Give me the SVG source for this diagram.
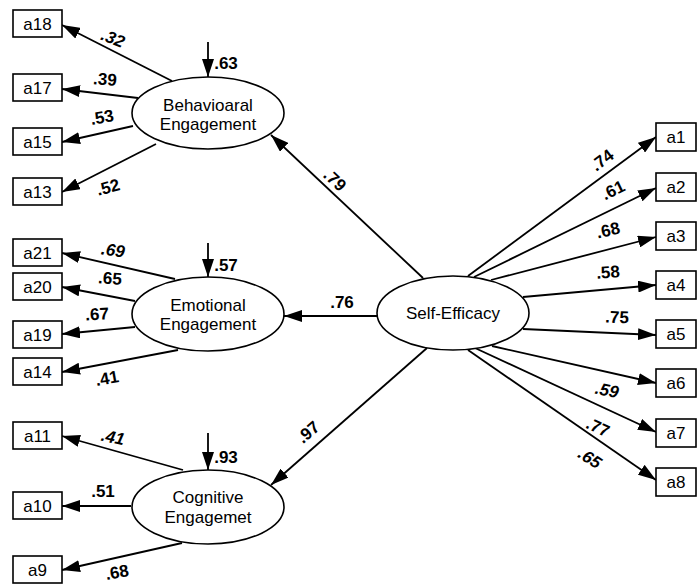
<svg xmlns="http://www.w3.org/2000/svg" width="697" height="585" viewBox="0 0 697 585">
<style>
.box{fill:#fff;stroke:#000;stroke-width:1.6}
.ell{fill:#fff;stroke:#000;stroke-width:1.6}
.t{font-family:"Liberation Sans",Arial,sans-serif;font-size:17px;fill:#000;text-anchor:middle}
.n{font-family:"Liberation Sans",Arial,sans-serif;font-size:17px;font-weight:bold;fill:#000;text-anchor:middle}
.i{font-style:italic}
.c line{stroke:#000;stroke-width:1.8;marker-end:url(#ah)}
</style>
<defs>
<marker id="ah" markerUnits="userSpaceOnUse" markerWidth="18" markerHeight="12" refX="18" refY="6" orient="auto">
<path d="M0,0 L18,6 L0,12 z" fill="#000"/>
</marker>
</defs>
<g id="connectors" class="c">
<line x1="172" y1="81" x2="62" y2="25"/>
<line x1="138" y1="98" x2="62" y2="89"/>
<line x1="133" y1="126" x2="62" y2="142"/>
<line x1="156" y1="144" x2="62" y2="192"/>
<line x1="175" y1="279" x2="62" y2="253"/>
<line x1="135" y1="301" x2="62" y2="287"/>
<line x1="135" y1="327" x2="62" y2="334"/>
<line x1="178" y1="350" x2="62" y2="372"/>
<line x1="183" y1="470" x2="62" y2="436"/>
<line x1="131" y1="506" x2="62" y2="506"/>
<line x1="182" y1="543" x2="62" y2="570"/>
<line x1="423" y1="278" x2="271" y2="135"/>
<line x1="377" y1="316" x2="284" y2="316"/>
<line x1="427" y1="348" x2="271" y2="485"/>
<line x1="468" y1="276" x2="656" y2="137"/>
<line x1="474" y1="277" x2="656" y2="188"/>
<line x1="491" y1="280" x2="656" y2="237"/>
<line x1="523" y1="297" x2="656" y2="285"/>
<line x1="523" y1="329" x2="656" y2="335"/>
<line x1="492" y1="346" x2="656" y2="383"/>
<line x1="475" y1="348" x2="656" y2="432"/>
<line x1="468" y1="350" x2="656" y2="480"/>
<line x1="208" y1="42" x2="208" y2="77"/>
<line x1="208" y1="243" x2="208" y2="277"/>
<line x1="208" y1="433" x2="208" y2="470"/>
</g>
<g id="labels">
<text class="n i" transform="translate(113,38) rotate(22)" y="6">.32</text>
<text class="n" transform="translate(105,79) rotate(4)" y="6">.39</text>
<text class="n" transform="translate(102,117) rotate(-10)" y="6">.53</text>
<text class="n" transform="translate(108,187) rotate(-15)" y="6">.52</text>
<text class="n i" transform="translate(113,250) rotate(8)" y="6">.69</text>
<text class="n" transform="translate(110,278) rotate(4)" y="6">.65</text>
<text class="n" transform="translate(97,314) rotate(-3)" y="6">.67</text>
<text class="n" transform="translate(107,378) rotate(-10)" y="6">.41</text>
<text class="n i" transform="translate(113,437) rotate(12)" y="6">.41</text>
<text class="n" transform="translate(103,491)" y="6">.51</text>
<text class="n" transform="translate(117,572) rotate(-10)" y="6">.68</text>
<text class="n" transform="translate(335,180) rotate(43)" y="6">.79</text>
<text class="n" transform="translate(342,302)" y="6">.76</text>
<text class="n" transform="translate(308,432) rotate(-41)" y="6">.97</text>
<text class="n" transform="translate(602,160) rotate(-37)" y="6">.74</text>
<text class="n" transform="translate(613,190) rotate(-26)" y="6">.61</text>
<text class="n" transform="translate(608,230) rotate(-13)" y="6">.68</text>
<text class="n" transform="translate(608,272) rotate(-4)" y="6">.58</text>
<text class="n" transform="translate(617,317) rotate(2)" y="6">.75</text>
<text class="n i" transform="translate(607,390) rotate(12)" y="6">.59</text>
<text class="n" transform="translate(598,427) rotate(25)" y="6">.77</text>
<text class="n i" transform="translate(590,458) rotate(33)" y="6">.65</text>
<text class="n" x="226" y="69">.63</text>
<text class="n" x="226" y="271">.57</text>
<text class="n" x="226" y="463">.93</text>
</g>
<g id="a18"><rect class="box" x="13" y="10" width="49" height="27"/><text class="t" x="37.5" y="30">a18</text></g>
<g id="a17"><rect class="box" x="13" y="74" width="49" height="27"/><text class="t" x="37.5" y="94">a17</text></g>
<g id="a15"><rect class="box" x="13" y="128" width="49" height="27"/><text class="t" x="37.5" y="148">a15</text></g>
<g id="a13"><rect class="box" x="13" y="178" width="49" height="27"/><text class="t" x="37.5" y="198">a13</text></g>
<g id="a21"><rect class="box" x="13" y="239" width="49" height="27"/><text class="t" x="37.5" y="259">a21</text></g>
<g id="a20"><rect class="box" x="13" y="273" width="49" height="27"/><text class="t" x="37.5" y="293">a20</text></g>
<g id="a19"><rect class="box" x="13" y="321" width="49" height="27"/><text class="t" x="37.5" y="341">a19</text></g>
<g id="a14"><rect class="box" x="13" y="358" width="49" height="27"/><text class="t" x="37.5" y="378">a14</text></g>
<g id="a11"><rect class="box" x="13" y="422" width="49" height="27"/><text class="t" x="37.5" y="442">a11</text></g>
<g id="a10"><rect class="box" x="13" y="492" width="49" height="27"/><text class="t" x="37.5" y="512">a10</text></g>
<g id="a9"><rect class="box" x="13" y="556" width="49" height="27"/><text class="t" x="37.5" y="576">a9</text></g>
<g id="a1"><rect class="box" x="656" y="123" width="40" height="28"/><text class="t" x="676" y="143">a1</text></g>
<g id="a2"><rect class="box" x="656" y="173" width="40" height="28"/><text class="t" x="676" y="193">a2</text></g>
<g id="a3"><rect class="box" x="656" y="222" width="40" height="28"/><text class="t" x="676" y="242">a3</text></g>
<g id="a4"><rect class="box" x="656" y="271" width="40" height="28"/><text class="t" x="676" y="291">a4</text></g>
<g id="a5"><rect class="box" x="656" y="320" width="40" height="28"/><text class="t" x="676" y="340">a5</text></g>
<g id="a6"><rect class="box" x="656" y="369" width="40" height="28"/><text class="t" x="676" y="389">a6</text></g>
<g id="a7"><rect class="box" x="656" y="419" width="40" height="28"/><text class="t" x="676" y="439">a7</text></g>
<g id="a8"><rect class="box" x="656" y="468" width="40" height="28"/><text class="t" x="676" y="488">a8</text></g>
<g id="behavioral"><ellipse class="ell" cx="208" cy="113" rx="76" ry="36"/><text class="t" x="208" y="111">Behavioaral</text><text class="t" x="208" y="130">Engagement</text></g>
<g id="emotional"><ellipse class="ell" cx="208" cy="314" rx="76" ry="37"/><text class="t" x="208" y="311">Emotional</text><text class="t" x="208" y="330">Engagement</text></g>
<g id="cognitive"><ellipse class="ell" cx="208" cy="507" rx="76" ry="37"/><text class="t" x="208" y="503">Cognitive</text><text class="t" x="208" y="523">Engagemet</text></g>
<g id="selfefficacy"><ellipse class="ell" cx="453" cy="313" rx="76" ry="37"/><text class="t" x="453" y="319">Self-Efficacy</text></g>
</svg>
